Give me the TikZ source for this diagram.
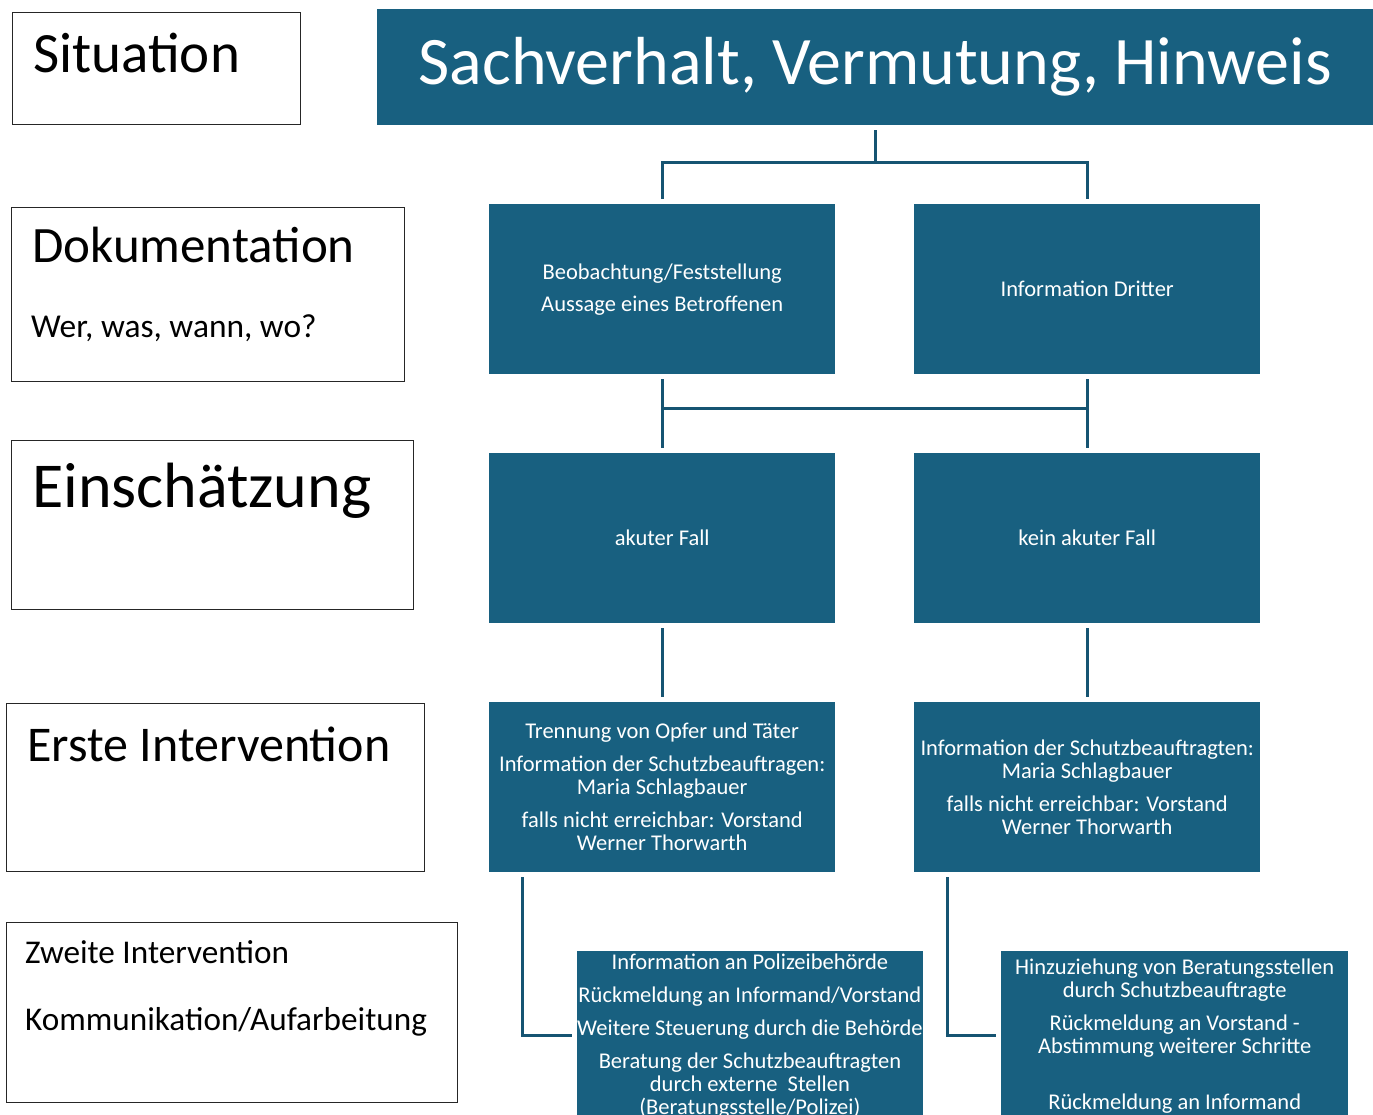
\documentclass[tikz,border=0pt]{standalone}
\usepackage{fontspec}
\setmainfont{Carlito}
\usetikzlibrary{calc}
\definecolor{boxblue}{RGB}{24,96,128}
\definecolor{lineblue}{RGB}{22,84,114}
\begin{document}
\begin{tikzpicture}[x=1pt,y=-1pt,
  bluebox/.style={fill=boxblue, text=white, minimum width=346pt, minimum height=170pt,
    inner sep=0pt, align=center, anchor=north west, font=\fontsize{22.5}{23}\selectfont},
  framebox/.style={draw=black!85, line width=1pt, anchor=north west, inner sep=0pt},
  lbl/.style={anchor=base west, inner sep=0pt, text=black},
  conn/.style={draw=lineblue, line width=3pt, shorten <=5pt, shorten >=5pt}]
\useasboundingbox (0,0) rectangle (1373,1115);
\clip (0,0) rectangle (1373,1115);
\fill[white] (0,0) rectangle (1373,1115);

% left frames
\node[framebox, minimum width=288pt, minimum height=112pt] (sit) at (12,12) {};
\node[lbl, font=\fontsize{57}{60}\selectfont] (sitt) at (33,73) {Situation};
\node[framebox, minimum width=393pt, minimum height=174pt] (dok) at (11,207) {};
\node[lbl, font=\fontsize{51}{60}\selectfont] (dokt) at (32,263) {Dokumentation};
\node[lbl, font=\fontsize{33.4}{40}\selectfont] (dokw) at (31,337) {Wer, was, wann, wo?};
\node[framebox, minimum width=402pt, minimum height=169pt] (ein) at (11,440) {};
\node[lbl, font=\fontsize{64}{70}\selectfont] (eint) at (32,507) {Einschätzung};
\node[framebox, minimum width=418pt, minimum height=168pt] (ers) at (6,703) {};
\node[lbl, font=\fontsize{50}{60}\selectfont] (erst) at (27,761) {Erste Intervention};
\node[framebox, minimum width=451pt, minimum height=180pt] (zwe) at (6,922) {};
\node[lbl, font=\fontsize{33.2}{40}\selectfont] (zwet) at (25,963) {Zweite Intervention};
\node[lbl, font=\fontsize{33.2}{40}\selectfont] (zwek) at (25,1030) {Kommunikation/Aufarbeitung};

% header
\node[bluebox, minimum width=996pt, minimum height=116pt, font=\fontsize{68}{70}\selectfont] (head) at (377,9) {Sachverhalt, Vermutung, Hinweis};

% blue boxes
\node[bluebox] (b1) at (489,204) {Beobachtung/Feststellung\\[9pt]Aussage eines Betroffenen};
\node[bluebox] (b2) at (914,204) {Information Dritter};
\node[bluebox] (a1) at (489,453) {akuter Fall};
\node[bluebox] (a2) at (914,453) {kein akuter Fall};
\node[bluebox] (e1) at (489,702) {Trennung von Opfer und T\"ater\\[10pt]Information der Schutzbeauftragen:\\Maria Schlagbauer\\[10pt]falls nicht erreichbar: Vorstand\\Werner Thorwarth};
\node[bluebox] (e2) at (914,702) {Information der Schutzbeauftragten:\\Maria Schlagbauer\\[10pt]falls nicht erreichbar: Vorstand\\Werner Thorwarth};
\node[bluebox, minimum width=345pt, minimum height=169pt] (z1) at (577,951) {Information an Polizeibeh\"orde\\[10pt]R\"uckmeldung an Informand/Vorstand\\[10pt]Weitere Steuerung durch die Beh\"orde\\[10pt]Beratung der Schutzbeauftragten\\durch externe\ \ Stellen\\(Beratungsstelle/Polizei)};
\node[bluebox, minimum width=347pt, minimum height=169pt] (z2) at (1001,951) {Hinzuziehung von Beratungsstellen\\durch Schutzbeauftragte\\[10pt]R\"uckmeldung an Vorstand -\\Abstimmung weiterer Schritte\\[33pt]R\"uckmeldung an Informand};

% connectors
\coordinate (j1) at (875,163);
\draw[conn] (head.south) -- (head.south |- j1) -| (b1.north);
\draw[conn] (head.south) -- (head.south |- j1) -| (b2.north);
\draw[conn] (b1.south) -- (a1.north);
\draw[conn] (b2.south) -- (a2.north);
\draw[draw=lineblue, line width=3pt] ($(b1.south)!0.44!(a1.north)$) -- ($(b2.south)!0.44!(a2.north)$);
\draw[conn] (a1.south) -- (e1.north);
\draw[conn] (a2.south) -- (e2.north);
\draw[conn] ([xshift=-140pt]e1.south) |- (z1.west);
\draw[conn] ([xshift=-140pt]e2.south) |- (z2.west);
\end{tikzpicture}
\end{document}
